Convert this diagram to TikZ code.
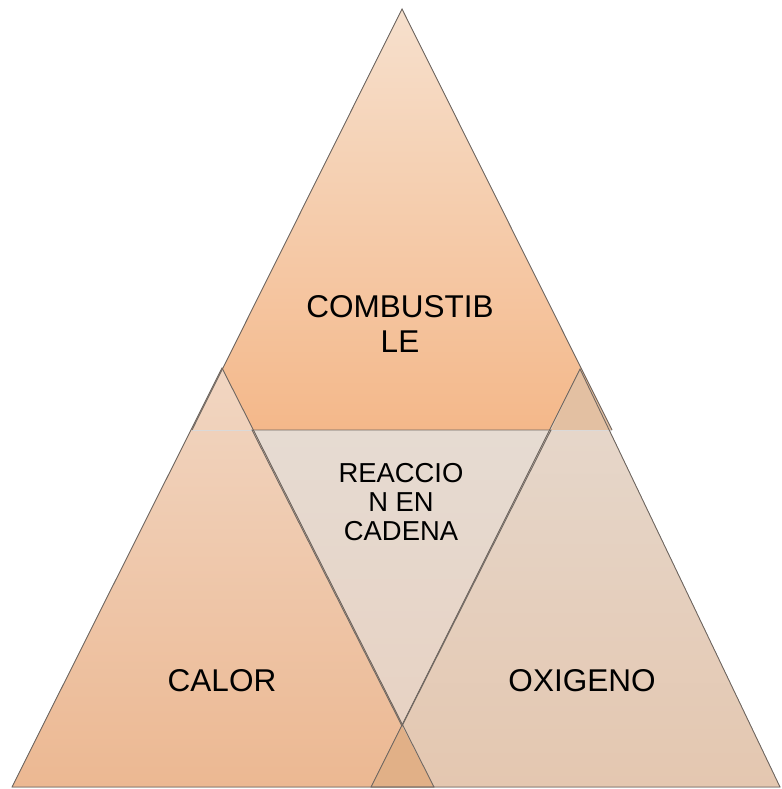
\documentclass[tikz,border=0pt]{standalone}
\usepackage{fontspec}
\setmainfont{Liberation Sans}
\definecolor{fueltop}{RGB}{246,224,205}
\definecolor{fuelbot}{RGB}{244,184,138}
\definecolor{chaintop}{RGB}{230,219,210}
\definecolor{chainbot}{RGB}{231,210,195}
\definecolor{heattop}{RGB}{241,214,194}
\definecolor{heatbot}{RGB}{236,184,146}
\definecolor{oxytop}{RGB}{230,217,206}
\definecolor{oxybot}{RGB}{228,199,176}
\definecolor{fueloxy}{RGB}{227,192,162}
\definecolor{heatoxy}{RGB}{225,176,135}
\definecolor{edgegray}{RGB}{112,104,98}
\begin{document}
\begin{tikzpicture}[x=1pt,y=-1pt, every node/.style={align=center,text=black},
  tri/.style={draw=edgegray,line width=0.9pt,line join=miter},
  faint/.style={draw=edgegray!25,line width=0.9pt},
  biglabel/.style={font=\fontsize{31.5}{34.4}\selectfont},
  smalllabel/.style={font=\fontsize{27.4}{29}\selectfont}]
\useasboundingbox (0,0) rectangle (781,789);
% corners of the four triangles
\coordinate (fA) at (402,9);   \coordinate (fL) at (192,430); \coordinate (fR) at (612,430);
\coordinate (cL) at (252,430); \coordinate (cR) at (551,430); \coordinate (cB) at (402,726);
\coordinate (hA) at (222,368); \coordinate (hL) at (12,787);  \coordinate (hR) at (434,787);
\coordinate (oA) at (580,369); \coordinate (oL) at (371,787); \coordinate (oR) at (780,787);
% fills
\fill[top color=fueltop,bottom color=fuelbot] (fA)--(fL)--(fR)--cycle;
\fill[top color=chaintop,bottom color=chainbot] (cL)--(cR)--(cB)--cycle;
\fill[top color=heattop,bottom color=heatbot] (hA)--(hL)--(hR)--cycle;
\fill[top color=oxytop,bottom color=oxybot] (oA)--(oL)--(oR)--cycle;
% overlaps
\fill[fueloxy] (oA)--(cR)--(fR)--cycle;
\fill[heatoxy] (cB)--(oL)--(hR)--cycle;
% outlines
\draw[faint] (fL)--(cL) (cR)--(fR);
\draw[tri] (fL)--(fA)--(fR);
\draw[tri] (cL)--(cR)--(cB)--cycle;
\draw[tri] (hA)--(hL)--(hR)--cycle;
\draw[tri] (oA)--(oL)--(oR)--cycle;
% labels
\node[biglabel] (fuel) at (400,324) {COMBUSTIB\\LE};
\node[smalllabel] (chain) at (401,502) {REACCIO\\N EN\\CADENA};
\node[biglabel] (heat) at (222,681) {CALOR};
\node[biglabel] (oxygen) at (582,681) {OXIGENO};
\end{tikzpicture}
\end{document}
